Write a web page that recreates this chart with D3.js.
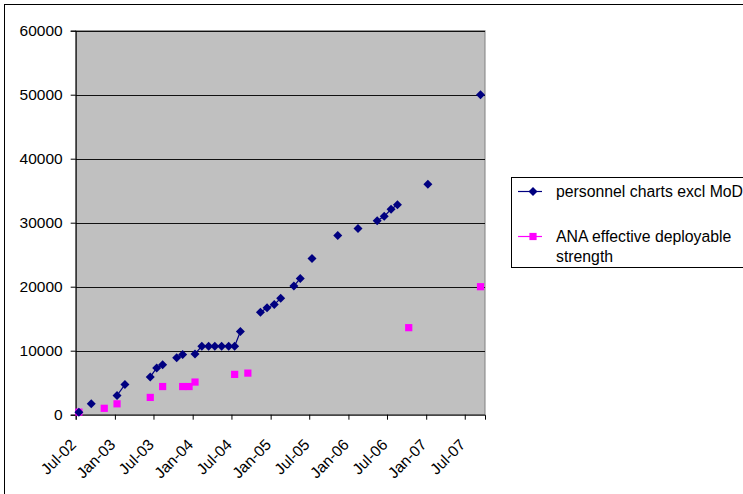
<!DOCTYPE html>
<html>
<head>
<meta charset="utf-8">
<script src="https://cdn.jsdelivr.net/npm/d3@7/dist/d3.min.js"></script>
<style>
  html, body { margin: 0; padding: 0; background: #fff; }
  svg { display: block; font-family: "Liberation Sans", Arial, sans-serif; }
</style>
</head>
<body>
<svg id="chart" width="743" height="494"></svg>
<script>
// ---- Data ----
const dates = [
  "2002-07-16","2002-09-12","2002-11-12","2003-01-11","2003-02-17",
  "2003-06-16","2003-07-16","2003-08-13","2003-10-18","2003-11-15",
  "2003-12-15","2004-01-12","2004-02-13","2004-03-16","2004-04-14",
  "2004-05-16","2004-06-18","2004-07-16","2004-08-12","2004-09-16",
  "2004-11-14","2004-12-15","2005-01-18","2005-02-17","2005-04-20",
  "2005-05-20","2005-07-14","2005-11-12","2006-02-15","2006-05-16",
  "2006-06-18","2006-07-20","2006-08-19","2006-10-11","2007-01-09",
  "2007-09-13"
];
const personnel = [
  400, 1700, null, 3000, 4700,
  5900, 7300, 7800, 8900, 9400,
  null, 9500, 10700, 10700, 10700,
  10700, 10700, 10700, 13000, null,
  16000, 16700, 17200, 18200, 20100,
  21300, 24400, 28000, 29100, 30300,
  31000, 32100, 32800, null, 36000,
  50000
];
const ana = [
  400, null, 1000, 1700, null,
  2700, null, 4400, null, 4400,
  4400, 5100, null, null, null,
  null, null, 6300, null, 6500,
  null, null, null, null, null,
  null, null, null, null, null,
  null, null, null, 13600, null,
  20000
];
const seriesNames = ["personnel charts excl MoD", "ANA effective deployable strength"];
const yTicks = [0, 10000, 20000, 30000, 40000, 50000, 60000];
const xTickLabels = ["Jul-02","Jan-03","Jul-03","Jan-04","Jul-04","Jan-05","Jul-05","Jan-06","Jul-06","Jan-07","Jul-07"];

// ---- Layout ----
const svg = d3.select("#chart");
const plot = { left: 75.7, right: 485, top: 30.7, bottom: 414.7 };
const parse = d3.timeParse("%Y-%m-%d");
const tickParse = d3.timeParse("%b-%y");

const x = d3.scaleTime()
  .domain([new Date(2002, 6, 1), new Date(2007, 9, 4)])
  .range([plot.left, plot.right]);
const y = d3.scaleLinear().domain([0, 60000]).range([plot.bottom, plot.top]);

// outer chart border
svg.append("rect").attr("x", 4.5).attr("y", 4.5).attr("width", 800).attr("height", 600)
  .attr("fill", "#fff").attr("stroke", "#000").attr("stroke-width", 1);

// plot background
svg.append("rect")
  .attr("x", plot.left).attr("y", plot.top)
  .attr("width", plot.right - plot.left).attr("height", plot.bottom - plot.top)
  .attr("fill", "#c0c0c0").attr("stroke", "#808080").attr("stroke-width", 1);

// gridlines
svg.append("g").selectAll("line").data(yTicks.filter(d => d > 0)).join("line")
  .attr("x1", plot.left).attr("x2", plot.right)
  .attr("y1", d => Math.round(y(d)) + 0.5).attr("y2", d => Math.round(y(d)) + 0.5)
  .attr("stroke", "#111").attr("stroke-width", 1);

// y axis
const yAxis = d3.axisLeft(y).tickValues(yTicks).tickSize(5).tickPadding(8).tickFormat(d3.format("d"));
const gy = svg.append("g").attr("transform", `translate(${plot.left},0)`).call(yAxis);
gy.select(".domain").attr("stroke", "#000");
gy.selectAll(".tick line").attr("stroke", "#000");
gy.selectAll("text").attr("font-size", 15.5).attr("fill", "#000")
  .attr("font-family", "Liberation Sans, Arial, sans-serif");

// x axis
const xTickDates = xTickLabels.map(s => tickParse(s));
const xAxis = d3.axisBottom(x).tickValues(xTickDates).tickSize(5).tickFormat(d3.timeFormat("%b-%y"));
const gx = svg.append("g").attr("transform", `translate(0,${plot.bottom})`).call(xAxis);
gx.select(".domain").attr("stroke", "#000");
gx.selectAll(".tick line").attr("stroke", "#000");
gx.selectAll("text")
  .attr("font-size", 15.5).attr("fill", "#000")
  .attr("font-family", "Liberation Sans, Arial, sans-serif")
  .attr("text-anchor", "end")
  .attr("dy", null).attr("y", null)
  .attr("transform", "translate(1,31) rotate(-45)");

// ---- Series ----
const rows = dates.map((d, i) => ({ date: parse(d), p: personnel[i], a: ana[i] }));
const monthIdx = d => d.getFullYear() * 12 + d.getMonth();

function segments(key) {
  const pts = rows.filter(r => r[key] != null);
  const segs = [];
  let cur = [];
  pts.forEach((r, i) => {
    if (i > 0 && monthIdx(r.date) - monthIdx(pts[i - 1].date) > 1) { segs.push(cur); cur = []; }
    cur.push(r);
  });
  if (cur.length) segs.push(cur);
  return segs.filter(s => s.length > 1);
}

const colors = { p: "#000080", a: "#ff00ff" };
["a", "p"].forEach(key => {
  const line = d3.line().x(r => x(r.date)).y(r => y(r[key]));
  svg.append("g").selectAll("path").data(segments(key)).join("path")
    .attr("d", line).attr("fill", "none").attr("stroke", colors[key]).attr("stroke-width", 1.2);
});

const diamond = "M0,-4.5L4.5,0L0,4.5L-4.5,0Z";
svg.append("g").selectAll("rect").data(rows.filter(r => r.a != null)).join("rect")
  .attr("x", r => x(r.date) - 3.6).attr("y", r => y(r.a) - 3.6)
  .attr("width", 7.2).attr("height", 7.2).attr("fill", colors.a);
svg.append("g").selectAll("path").data(rows.filter(r => r.p != null)).join("path")
  .attr("d", diamond)
  .attr("transform", r => `translate(${x(r.date)},${y(r.p)})`)
  .attr("fill", colors.p);

// ---- Legend ----
const lg = svg.append("g");
lg.append("rect").attr("x", 511.5).attr("y", 177.5).attr("width", 300).attr("height", 90)
  .attr("fill", "#fff").attr("stroke", "#000").attr("stroke-width", 1);
// item 1
lg.append("line").attr("x1", 518).attr("x2", 542).attr("y1", 191.5).attr("y2", 191.5)
  .attr("stroke", colors.p).attr("stroke-width", 1.2);
lg.append("path").attr("d", diamond).attr("transform", "translate(533,191.5)").attr("fill", colors.p);
lg.append("text").attr("x", 556).attr("y", 197).attr("font-size", 15.8).text(seriesNames[0]);
// item 2
lg.append("line").attr("x1", 518).attr("x2", 542).attr("y1", 236.5).attr("y2", 236.5)
  .attr("stroke", colors.a).attr("stroke-width", 1.2);
lg.append("rect").attr("x", 529.4).attr("y", 232.9).attr("width", 7.2).attr("height", 7.2).attr("fill", colors.a);
const t2 = lg.append("text").attr("x", 556).attr("y", 242).attr("font-size", 15.8);
t2.append("tspan").attr("x", 556).text("ANA effective deployable");
t2.append("tspan").attr("x", 556).attr("dy", 20).text("strength");
</script>
</body>
</html>
